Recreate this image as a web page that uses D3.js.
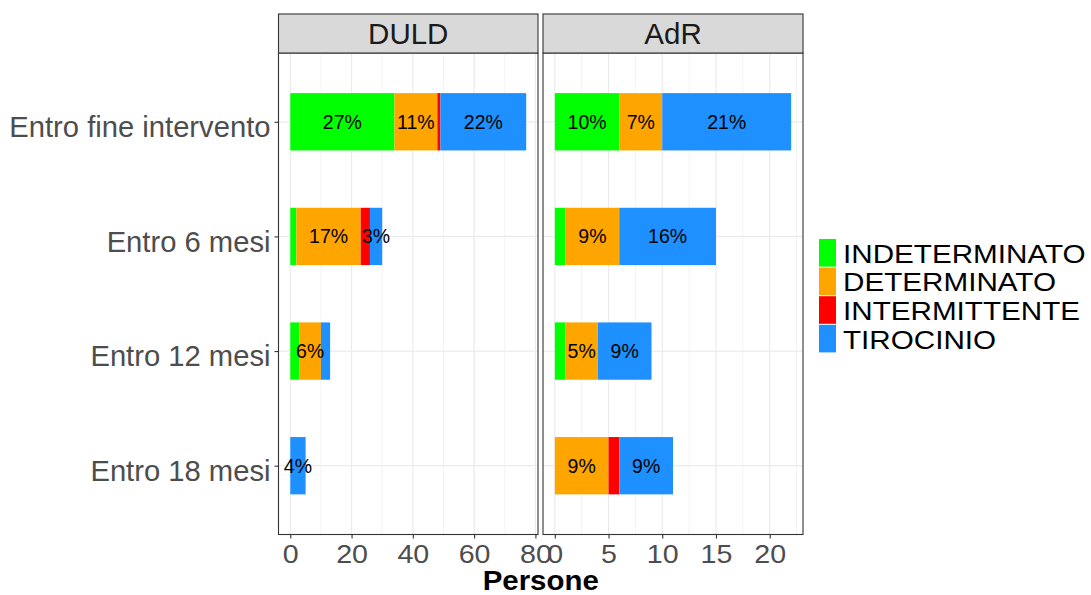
<!DOCTYPE html>
<html>
<head>
<meta charset="utf-8">
<script src="https://cdn.jsdelivr.net/npm/d3@7"></script>
<style>
  body { margin: 0; background: #fff; }
  svg { font-family: "Liberation Sans", Arial, sans-serif; }
</style>
</head>
<body>
<svg id="chart" width="1091" height="595"></svg>
<script>
// categories and panels
var categories = ["Entro fine intervento", "Entro 6 mesi", "Entro 12 mesi", "Entro 18 mesi"];
var panels = ["DULD", "AdR"];
var types = ["INDETERMINATO", "DETERMINATO", "INTERMITTENTE", "TIROCINIO"];

// persone, per panel (same order as categories)
var duld_indeterminato = [34, 2, 3, 0];
var duld_determinato   = [14, 21, 7, 0];
var duld_intermittente = [1, 3, 0, 0];
var duld_tirocinio     = [28, 4, 3, 5];

var adr_indeterminato = [6, 1, 1, 0];
var adr_determinato   = [4, 5, 3, 5];
var adr_intermittente = [0, 0, 0, 1];
var adr_tirocinio     = [12, 9, 5, 5];

// percent labels shown on the bars (null = not shown)
var duld_pct_indeterminato = [27, null, null, null];
var duld_pct_determinato   = [11, 17, 6, null];
var duld_pct_intermittente = [null, null, null, null];
var duld_pct_tirocinio     = [22, 3, null, 4];

var adr_pct_indeterminato = [10, null, null, null];
var adr_pct_determinato   = [7, 9, 5, 9];
var adr_pct_intermittente = [null, null, null, null];
var adr_pct_tirocinio     = [21, 16, 9, 9];

var duld_ticks = [0, 20, 40, 60, 80];
var adr_ticks = [0, 5, 10, 15, 20];

var colors = ["#00ff00", "#ffa500", "#ff0000", "#1e90ff"];

function build(vals, pcts) {
    return categories.map(function (c, i) {
        var row = {cat: c};
        types.forEach(function (t, j) {
            row[t] = vals[j][i];
            row["pct_" + t] = pcts[j][i];
        });
        return row;
    });
}

var panel_data = {
    "DULD": build([duld_indeterminato, duld_determinato, duld_intermittente, duld_tirocinio],
                  [duld_pct_indeterminato, duld_pct_determinato, duld_pct_intermittente, duld_pct_tirocinio]),
    "AdR": build([adr_indeterminato, adr_determinato, adr_intermittente, adr_tirocinio],
                 [adr_pct_indeterminato, adr_pct_determinato, adr_pct_intermittente, adr_pct_tirocinio])
};
var panel_ticks = {"DULD": duld_ticks, "AdR": adr_ticks};

var color = d3.scaleOrdinal().domain(types).range(colors);

var svg = d3.select("#chart");

var panel_top = 53, panel_bottom = 534.5, strip_top = 14;
var panel_x = {"DULD": [278.5, 538], "AdR": [543, 803]};

// stretch text a little horizontally (original output is wider than tall)
function stretch(sel, k) {
    sel.each(function () {
        var len = this.getComputedTextLength();
        d3.select(this)
            .attr("textLength", len * k)
            .attr("lengthAdjust", "spacingAndGlyphs");
    });
}

// y: discrete scale with ggplot-style 0.6 expansion
var yScale = d3.scalePoint()
    .domain(categories)
    .range([panel_top, panel_bottom])
    .padding(0.6);
var step = yScale.step();
var bar_h = step * 0.5;

panels.forEach(function (p) {
    var data = panel_data[p];
    var layers = d3.stack().keys(types)(data);
    var maxv = d3.max(layers[layers.length - 1], function (d) { return d[1]; });
    var ex = maxv * 0.05;
    var x0 = panel_x[p][0], x1 = panel_x[p][1];

    var xScale = d3.scaleLinear()
        .domain([-ex, maxv + ex])
        .range([x0, x1]);

    var ticks = panel_ticks[p];
    var minor = [];
    for (var i = 0; i < ticks.length; i++) {
        var m = ticks[i] + (ticks[1] - ticks[0]) / 2;
        if (m <= maxv + ex) minor.push(m);
    }

    var g = svg.append("g").attr("class", "panel");

    // grid
    g.selectAll(".minor").data(minor).enter().append("line")
        .attr("x1", function (d) { return xScale(d); })
        .attr("x2", function (d) { return xScale(d); })
        .attr("y1", panel_top).attr("y2", panel_bottom)
        .attr("stroke", "#ebebeb").attr("stroke-width", 0.6);
    g.selectAll(".major").data(ticks).enter().append("line")
        .attr("x1", function (d) { return xScale(d); })
        .attr("x2", function (d) { return xScale(d); })
        .attr("y1", panel_top).attr("y2", panel_bottom)
        .attr("stroke", "#ebebeb").attr("stroke-width", 1.2);
    g.selectAll(".hgrid").data(categories).enter().append("line")
        .attr("x1", x0).attr("x2", x1)
        .attr("y1", function (d) { return yScale(d); })
        .attr("y2", function (d) { return yScale(d); })
        .attr("stroke", "#ebebeb").attr("stroke-width", 1.2);

    // bars
    var layer = g.selectAll("g.layer").data(layers).enter()
        .append("g")
        .attr("class", "layer")
        .attr("fill", function (d) { return color(d.key); });

    layer.selectAll("rect")
        .data(function (d) { return d; })
        .enter().append("rect")
        .attr("x", function (d) { return xScale(d[0]); })
        .attr("width", function (d) { return xScale(d[1]) - xScale(d[0]); })
        .attr("y", function (d) { return yScale(d.data.cat) - bar_h / 2; })
        .attr("height", bar_h);

    // labels
    layers.forEach(function (l) {
        g.selectAll(null)
            .data(l.filter(function (d) { return d.data["pct_" + l.key] != null; }))
            .enter().append("text")
            .attr("x", function (d) { return (xScale(d[0]) + xScale(d[1])) / 2; })
            .attr("y", function (d) { return yScale(d.data.cat) + 7; })
            .attr("text-anchor", "middle")
            .style("font-size", "19.5px")
            .attr("fill", "#000")
            .text(function (d) { return d.data["pct_" + l.key] + "%"; });
    });

    // panel border
    g.append("rect")
        .attr("x", x0).attr("y", panel_top)
        .attr("width", x1 - x0).attr("height", panel_bottom - panel_top)
        .attr("fill", "none").attr("stroke", "#333333").attr("stroke-width", 1.1);

    // strip
    g.append("rect")
        .attr("x", x0).attr("y", strip_top)
        .attr("width", x1 - x0).attr("height", panel_top - strip_top)
        .attr("fill", "#d9d9d9").attr("stroke", "#333333").attr("stroke-width", 1.1);
    g.append("text")
        .attr("x", (x0 + x1) / 2).attr("y", 44)
        .attr("text-anchor", "middle")
        .style("font-size", "29.5px")
        .attr("fill", "#1a1a1a")
        .text(p);

    // x axis
    var xaxis = g.append("g")
        .attr("class", "x-axis")
        .attr("transform", "translate(0," + panel_bottom + ")")
        .call(d3.axisBottom(xScale).tickValues(ticks).tickSize(4).tickSizeOuter(0));
    xaxis.select(".domain").remove();
    xaxis.selectAll(".tick line").attr("stroke", "#333333").attr("stroke-width", 1.1);
    xaxis.selectAll(".tick text")
        .attr("y", 28.5)
        .attr("dy", null)
        .style("font-size", "26px")
        .style("font-family", "Liberation Sans, Arial, sans-serif")
        .attr("fill", "#4d4d4d")
        .call(stretch, 1.1);

    if (p === "DULD") {
        var yaxis = g.append("g")
            .attr("class", "y-axis")
            .attr("transform", "translate(" + x0 + ",0)")
            .call(d3.axisLeft(yScale).tickSize(4).tickSizeOuter(0));
        yaxis.select(".domain").remove();
        yaxis.selectAll(".tick line").attr("stroke", "#333333").attr("stroke-width", 1.1);
        yaxis.selectAll(".tick text")
            .attr("x", -8)
            .attr("dy", "0.5em")
            .style("font-size", "29.2px")
            .style("font-family", "Liberation Sans, Arial, sans-serif")
            .attr("fill", "#4d4d4d");
    }
});

// x axis title
svg.append("text")
    .attr("x", (panel_x.DULD[0] + panel_x.AdR[1]) / 2)
    .attr("y", 589.5)
    .attr("text-anchor", "middle")
    .style("font-size", "27px")
    .style("font-weight", "bold")
    .attr("fill", "#000")
    .text("Persone")
    .call(stretch, 1.09);

// legend
var legend = svg.append("g").attr("transform", "translate(819,239)");
var key_h = 28.6;
legend.selectAll("rect").data(types).enter().append("rect")
    .attr("x", 0)
    .attr("y", function (d, i) { return i * key_h; })
    .attr("width", 17)
    .attr("height", key_h - 1)
    .attr("fill", function (d) { return color(d); });
legend.selectAll("text").data(types).enter().append("text")
    .attr("x", 24)
    .attr("y", function (d, i) { return i * key_h + key_h / 2 + 9.5; })
    .style("font-size", "26px")
    .attr("fill", "#000")
    .text(function (d) { return d; })
    .call(stretch, 1.14);
</script>
</body>
</html>
